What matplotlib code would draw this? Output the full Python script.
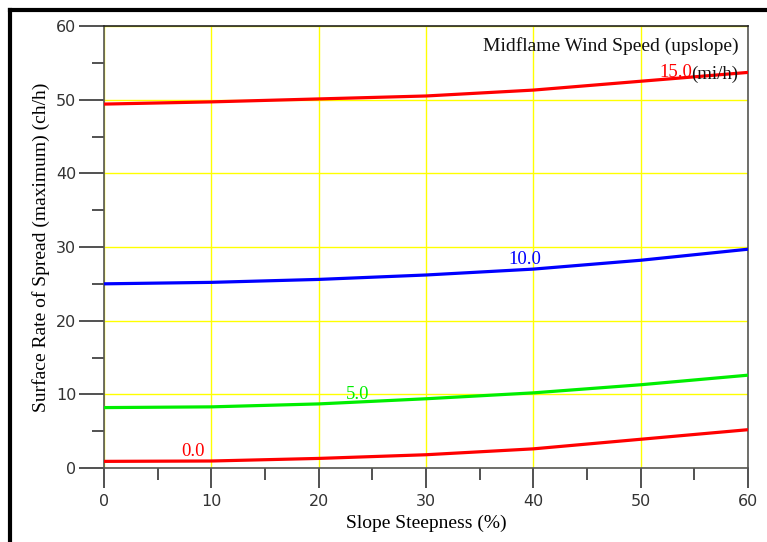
import matplotlib
matplotlib.use("Agg")
import matplotlib.pyplot as plt
from matplotlib.ticker import MultipleLocator

slope = [0, 10, 20, 30, 40, 50, 60]
wind_speeds = ["0.0", "5.0", "10.0", "15.0"]
ros_0 = [0.9, 0.95, 1.3, 1.8, 2.6, 3.9, 5.2]
ros_5 = [8.2, 8.3, 8.7, 9.4, 10.2, 11.3, 12.6]
ros_10 = [25.0, 25.2, 25.6, 26.2, 27.0, 28.2, 29.7]
ros_15 = [49.4, 49.7, 50.1, 50.5, 51.3, 52.5, 53.7]
colors = ["#ff0000", "#00ee00", "#0000ff", "#ff0000"]
label_x = [8.3, 23.6, 39.2, 53.3]

fig = plt.figure(figsize=(7.67, 5.42), dpi=100)
ax = fig.add_axes([104 / 767, 1 - 468 / 542, 644 / 767, 442 / 542])

for y, c, lab, lx in zip([ros_0, ros_5, ros_10, ros_15], colors, wind_speeds, label_x):
    ax.plot(slope, y, color=c, lw=2.3, solid_capstyle="butt", zorder=3)
    # label sits just above the curve near its x position
    idx = min(range(len(slope)), key=lambda i: abs(slope[i] - lx))
    ax.text(lx, y[idx] + 0.1, lab, color=c, fontsize=13.5, family="Liberation Serif",
            ha="center", va="bottom", zorder=4)

ax.set_xlim(0, 60)
ax.set_ylim(0, 60)
ax.xaxis.set_major_locator(MultipleLocator(10))
ax.xaxis.set_minor_locator(MultipleLocator(5))
ax.yaxis.set_major_locator(MultipleLocator(10))
ax.yaxis.set_minor_locator(MultipleLocator(5))
ax.grid(True, which="major", color="#ffff00", lw=1.0, zorder=1)
ax.set_axisbelow(True)

for s in ax.spines.values():
    s.set_color("#555555")
    s.set_linewidth(1.2)
ax.spines["top"].set_color("#222222")

ax.tick_params(axis="x", which="major", length=14.5, width=1.2, color="#333333",
               labelsize=11.5, labelcolor="#333333", pad=4)
ax.tick_params(axis="x", which="minor", length=8.6, width=1.2, color="#333333")
ax.tick_params(axis="y", which="major", length=18, width=1.2, color="#333333",
               labelsize=11.5, labelcolor="#333333", pad=2)
ax.tick_params(axis="y", which="minor", length=8.6, width=1.2, color="#333333")

ax.set_xlabel("Slope Steepness (%)", family="Liberation Serif", fontsize=14, labelpad=4)
ax.set_ylabel("Surface Rate of Spread (maximum) (ch/h)", family="Liberation Serif",
              fontsize=14, labelpad=4)

ax.text(0.985, 0.955, "Midflame Wind Speed (upslope)", transform=ax.transAxes,
        ha="right", va="center", family="Liberation Serif", fontsize=14, color="#111111")
ax.text(0.985, 0.89, "(mi/h)", transform=ax.transAxes, ha="right", va="center",
        family="Liberation Serif", fontsize=13.5, color="#111111", zorder=5)

# outer frame: thick black left and top edges
fig.add_artist(plt.Line2D([10 / 767, 10 / 767], [0, 1 - 10 / 542], color="black",
                          lw=3, transform=fig.transFigure))
fig.add_artist(plt.Line2D([10 / 767, 765 / 767], [1 - 10 / 542, 1 - 10 / 542],
                          color="black", lw=3, transform=fig.transFigure))

fig.savefig("out.png", dpi=100)
